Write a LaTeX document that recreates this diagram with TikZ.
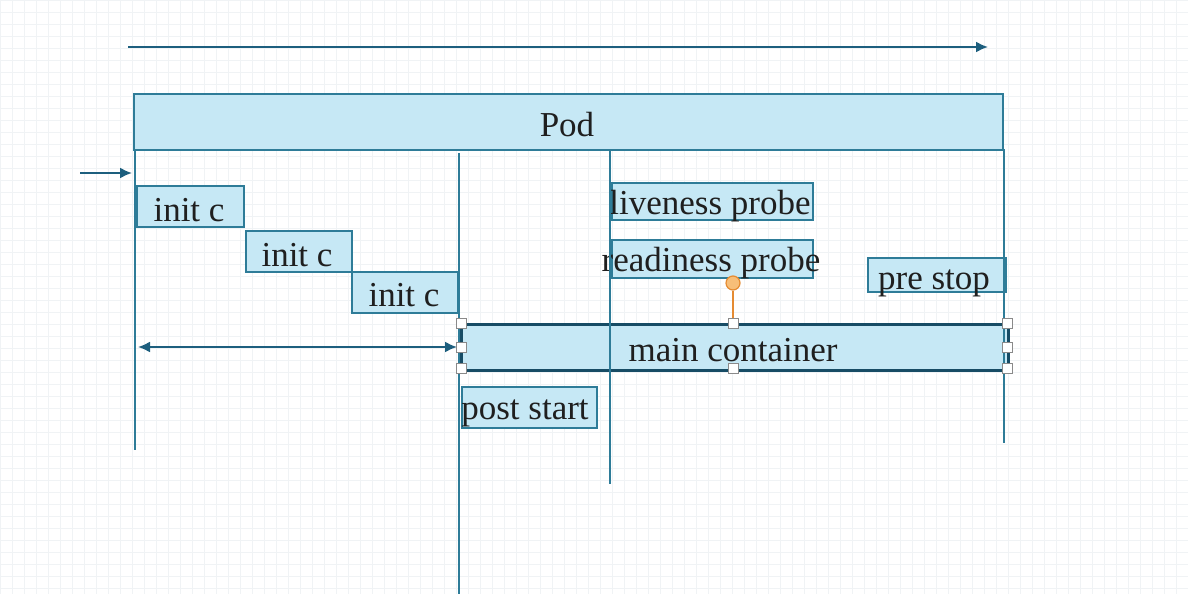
\documentclass[tikz,border=0pt]{standalone}
\usepackage{fontspec}
\setmainfont{Liberation Serif}
\usetikzlibrary{arrows.meta}
\definecolor{boxfill}{HTML}{C6E8F5}
\definecolor{boxline}{HTML}{2E7C98}
\definecolor{arrowc}{HTML}{1D5F7E}
\definecolor{gridc}{HTML}{F0F3F5}
\definecolor{handleline}{HTML}{8A8A8A}
\definecolor{rotfill}{HTML}{F7BE78}
\definecolor{rotline}{HTML}{E58B32}
\newcommand\lbfont{\fontsize{17.5}{20}\selectfont}
\begin{document}
\begin{tikzpicture}[x=0.5pt,y=-0.5pt,
  box/.style={draw=boxline, fill=boxfill, line width=0.9pt, inner sep=0pt, anchor=north west},
  selbox/.style={box, draw=arrowc!80!black, line width=1.3pt},
  lbl/.style={font=\lbfont, anchor=base, inner sep=0pt, text=black!88},
  arr/.style={draw=arrowc, line width=1pt, -{Latex[length=6pt,width=5.5pt]}},
  darr/.style={draw=arrowc, line width=1pt, {Latex[length=6pt,width=5.5pt]}-{Latex[length=6pt,width=5.5pt]}},
  vline/.style={draw=boxline, line width=1pt},
  handle/.style={draw=handleline, fill=white, line width=0.5pt, minimum size=5pt, inner sep=0pt},
  rot/.style={circle, draw=rotline, fill=rotfill, line width=0.6pt, minimum size=7pt, inner sep=0pt}]
\useasboundingbox (0,0) rectangle (1188,594);
\fill[white] (0,0) rectangle (1188,594);
\draw[gridc, line width=0.3pt, step=6pt] (0,0) grid (1188,594);

% top arrow
\coordinate (ta) at (128,47);
\coordinate (tb) at (988,47);
\draw[arr] (ta) -- (tb);

% Pod
\node[box, minimum width=434.5pt, minimum height=28pt] (pod) at (133,93) {};
\node[lbl] (podl) at (567,136) {Pod};

% left arrow
\coordinate (la) at (80,173);
\coordinate (lb) at (132,173);
\draw[arr] (la) -- (lb);

% init containers
\node[box, minimum width=53.5pt, minimum height=20.5pt] (i1) at (136,185) {};
\node[lbl] (i1l) at (189,221) {init c};
\node[box, minimum width=53pt, minimum height=20.5pt] (i2) at (245,230) {};
\node[lbl] (i2l) at (297,266) {init c};
\node[box, minimum width=53pt, minimum height=20.5pt] (i3) at (351,271) {};
\node[lbl] (i3l) at (404,306) {init c};

% probes
\node[box, minimum width=100.5pt, minimum height=18.5pt] (lp) at (611,182) {};
\node[lbl] (lpl) at (710,214) {liveness probe};
\node[box, minimum width=100.5pt, minimum height=19pt] (rp) at (611,239) {};
\node[lbl] (rpl) at (711,271) {readiness probe};
\node[box, minimum width=69pt, minimum height=17pt] (ps) at (867,257) {};
\node[lbl] (psl) at (934,289) {pre stop};

% main container
\node[selbox, minimum width=273.5pt, minimum height=23pt] (mc) at (460,323) {};
\node[lbl] (mcl) at (733,361) {main container};

% post start
\node[box, minimum width=67.5pt, minimum height=20.5pt] (pst) at (461,386) {};
\node[lbl] (pstl) at (525,419) {post start};

% vertical lines
\draw[vline] (135,149) -- (135,450);
\draw[vline] (459,153) -- (459,594);
\draw[vline] (610,149) -- (610,484);
\draw[vline] (1004,149) -- (1004,443);

% double arrow
\coordinate (da) at (138,347);
\coordinate (db) at (457,347);
\draw[darr] (da) -- (db);

% selection handles
\node[rot] (r) at (733,283) {};
\node[handle] (h1) at (461,323) {};
\node[handle] (h2) at (461,347) {};
\node[handle] (h3) at (461,368) {};
\node[handle] (h4) at (733,323) {};
\node[handle] (h5) at (733,368) {};
\node[handle] (h6) at (1007,323) {};
\node[handle] (h7) at (1007,347) {};
\node[handle] (h8) at (1007,368) {};
\draw[rotline, line width=0.8pt] (r) -- (h4);
\end{tikzpicture}
\end{document}
